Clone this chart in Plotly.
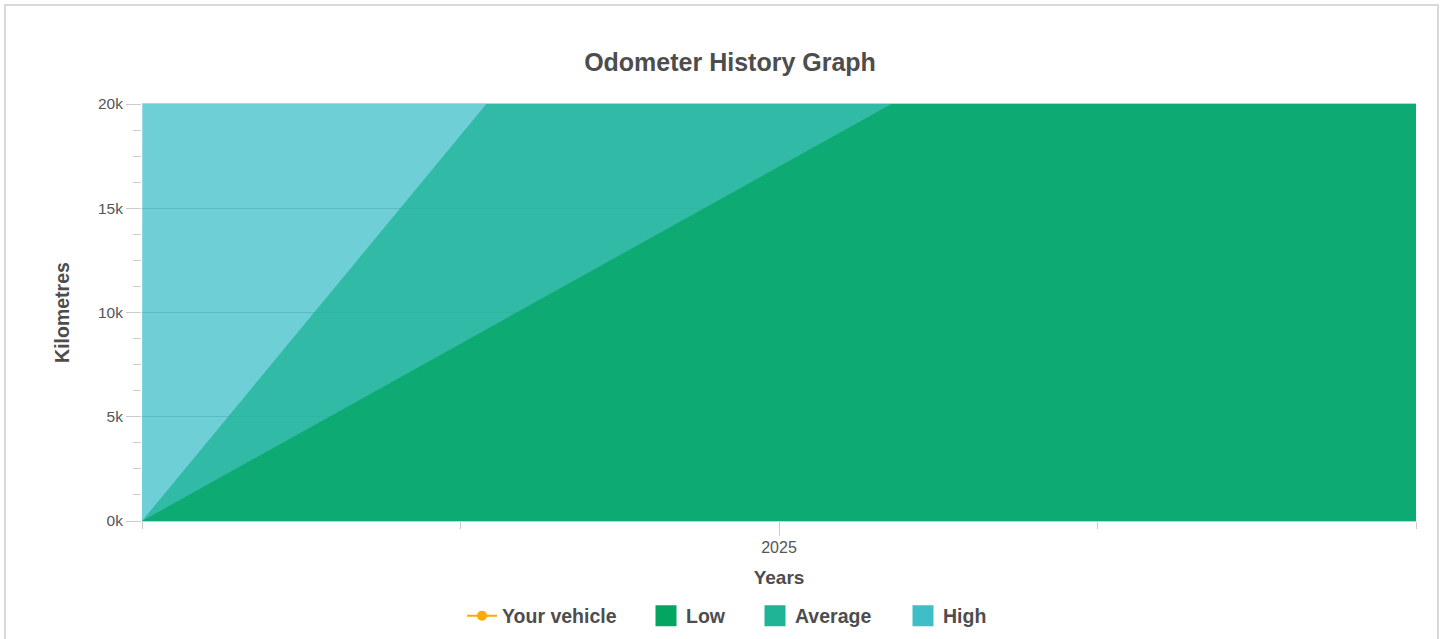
import plotly.graph_objects as go

# ---- data ----
years = [2024.5, 2025.5]
low_km = [0, 34000]
average_km = [0, 74000]
high_km = [0, 80000000]

y_tick_vals = [0, 5000, 10000, 15000, 20000]
y_tick_text = ["0k", "5k", "10k", "15k", "20k"]
x_tick_vals = [2025]
x_tick_text = ["2025"]

series_names = ["Your vehicle", "Low", "Average", "High"]
colors = {"Your vehicle": "#FFAA00", "Low": "#02A661", "Average": "#1EB495", "High": "#3EBFC8"}

def rgba(hex_color, a):
    h = hex_color.lstrip("#")
    r, g, b = int(h[0:2], 16), int(h[2:4], 16), int(h[4:6], 16)
    return f"rgba({r},{g},{b},{a})"

FW, FH = 1446, 639

fig = go.Figure()

# area traces (High bottom, Low on top)
for name, vals in [("High", high_km), ("Average", average_km), ("Low", low_km)]:
    fig.add_trace(go.Scatter(
        x=years, y=vals, mode="lines", fill="tozeroy",
        line=dict(width=0, color=colors[name]),
        fillcolor=rgba(colors[name], 0.75),
        showlegend=False, hoverinfo="skip", name=name,
    ))

font_family = "Liberation Sans, Arial, Helvetica, sans-serif"
text_color = "#4d4d4d"

# legend entries, one legend each so they can be spaced like the original
legend_centers = {"Your vehicle": 482, "Low": 666, "Average": 775, "High": 923}
legend_keys = ["legend", "legend2", "legend3", "legend4"]
legend_layouts = {}
for key, name in zip(legend_keys, series_names):
    if name == "Your vehicle":
        fig.add_trace(go.Scatter(
            x=[None], y=[None], mode="lines+markers", name=name, legend=key,
            line=dict(color=colors[name], width=2),
            marker=dict(color=colors[name], size=10, symbol="circle"),
        ))
    else:
        fig.add_trace(go.Scatter(
            x=[None], y=[None], mode="markers", name=name, legend=key,
            marker=dict(color=colors[name], size=16, symbol="square",
                        line=dict(color=colors[name], width=5)),
        ))
    legend_layouts[key] = dict(
        orientation="h", xref="container", yref="container",
        x=(legend_centers[name] - 20) / FW, xanchor="left",
        y=1 - 616 / FH, yanchor="middle",
        font=dict(size=19.5, color=text_color, family=font_family, weight="bold"),
        itemsizing="trace", bgcolor="rgba(0,0,0,0)", borderwidth=0,
    )

fig.update_layout(
    width=FW, height=FH,
    paper_bgcolor="white", plot_bgcolor="white",
    margin=dict(l=142, r=FW - 1416, t=104, b=FH - 521),
    font=dict(family=font_family, color=text_color),
    title=dict(text="Odometer History Graph", x=730 / FW, xanchor="center",
               y=1 - 62 / FH, yanchor="middle", xref="container", yref="container",
               font=dict(size=25, color=text_color, weight="bold")),
    showlegend=True,
    xaxis=dict(
        range=[2024.5, 2025.5], tickmode="array", tickvals=x_tick_vals, ticktext=x_tick_text,
        ticks="outside", ticklen=14, tickcolor="#cccccc", tickwidth=1,
        ticklabelstandoff=-2,
        showgrid=False, zeroline=False,
        showline=True, linecolor="#cccccc", linewidth=1, mirror=True,
        tickfont=dict(size=16, color="#555555"),
        minor=dict(dtick=0.25, tick0=2024.5, ticks="outside", ticklen=7, tickcolor="#cccccc", showgrid=False),
        title=dict(text="Years", font=dict(size=19, color=text_color, weight="bold"), standoff=15),
        layer="above traces",
    ),
    yaxis=dict(
        range=[0, 20000], tickmode="array", tickvals=y_tick_vals, ticktext=y_tick_text,
        ticks="outside", ticklen=15, tickcolor="#cccccc", tickwidth=1,
        showgrid=True, gridcolor="#b0b0b0", gridwidth=1, zeroline=False, showline=False,
        tickfont=dict(size=15.5, color="#555555"),
        minor=dict(dtick=1250, ticks="outside", ticklen=8, tickcolor="#cccccc", showgrid=False),
        title=dict(text="Kilometres", font=dict(size=19.5, color=text_color, weight="bold"), standoff=23),
    ),
    **legend_layouts,
)

# outer border of the chart container
W, H = 1274, 417
def px_x(p):
    return (p - 142) / W
def px_y(p):
    return (521 - p) / H
fig.add_shape(type="rect", xref="paper", yref="paper",
              x0=px_x(5), x1=px_x(1438), y0=px_y(680), y1=px_y(5),
              line=dict(color="#d9d9d9", width=2), fillcolor="rgba(0,0,0,0)", layer="above")

fig.write_html("out.html", config={"displayModeBar": False},
               post_script="document.body.style.margin='0px';")
